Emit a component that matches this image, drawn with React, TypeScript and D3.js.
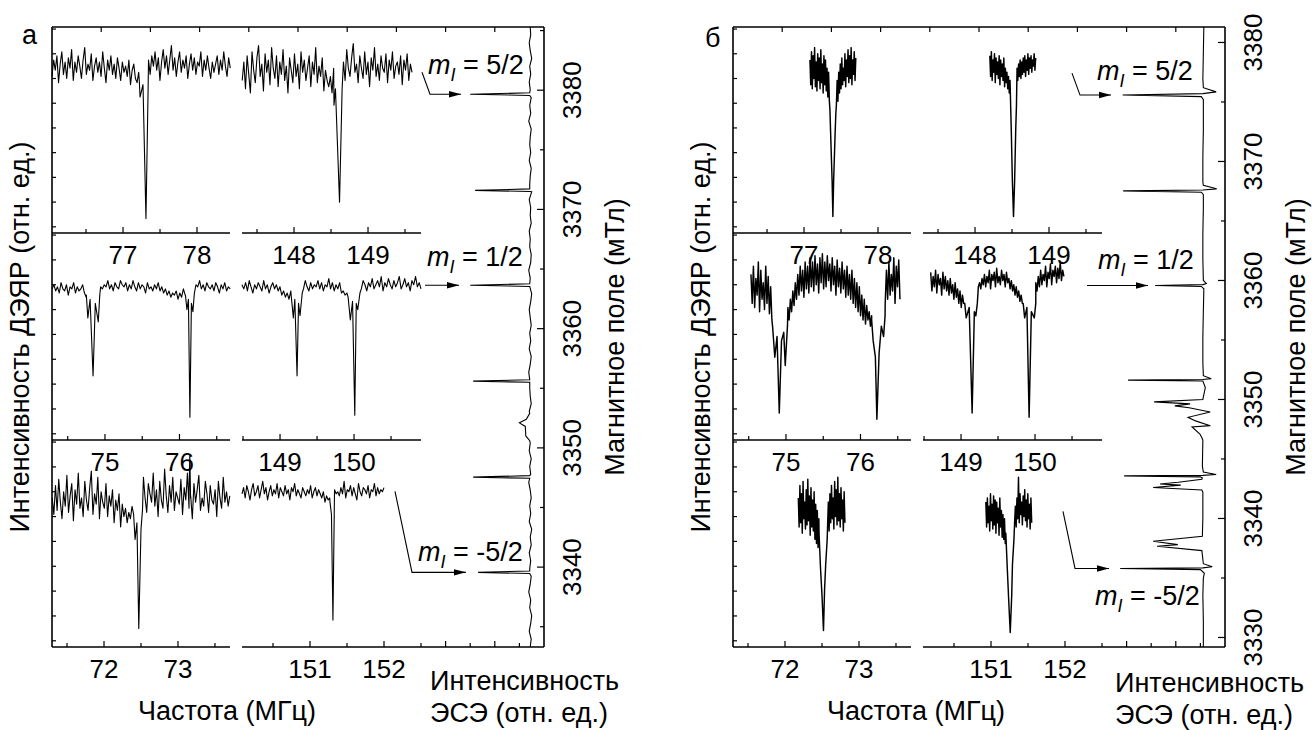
import React from 'react';
import * as d3 from 'd3';

type Pt = [number, number];

// ---------- ДЭЯР, панель а (частота МГц, интенсивность отн. ед.) ----------
const aTopLeftRange = [76.04, 78.45];
const aTopLeft = [
  76, 84, 79, 86, 73, 82, 88, 77, 83, 75, 85, 80, 89, 74, 83, 78, 86, 81, 75, 84,
  90, 77, 82, 79, 87, 74, 81, 85, 78, 83, 76, 88, 80, 73, 84, 79, 86, 77, 82, 75,
  85, 80, 74, 83, 78, 81, 76, 84, 72, 79, 82, 75, 73, 78, 71, 76, 80, 74, 79, 84,
  77, 86, 81, 88, 79, 85, 74, 83, 89, 80, 86, 77, 84, 91, 79, 85, 76, 83, 88, 78,
  84, 80, 86, 75, 82, 87, 79, 85, 77, 83, 81, 88, 76, 84, 79, 86, 80, 75, 83, 78,
  82, 86, 77, 84, 79, 88, 81, 76, 85, 80,
];
const aTopLeftDips: Pt[][] = [[[77.22, 74], [77.23, 66], [77.27, 72], [77.31, 7], [77.34, 72]]];

const aTopRightRange = [147.3, 149.595];
const aTopRight = [
  74, 83, 70, 86, 77, 68, 88, 79, 73, 85, 91, 76, 82, 69, 87, 78, 84, 72, 90, 80,
  75, 86, 71, 83, 77, 89, 74, 81, 68, 85, 79, 73, 87, 76, 82, 70, 88, 78, 84, 74,
  80, 86, 71, 83, 77, 90, 73, 81, 76, 85, 69, 79, 74, 71, 76, 68, 80, 73, 84, 77,
  87, 79, 83, 74, 89, 80, 76, 85, 92, 78, 82, 73, 86, 80, 75, 88, 77, 83, 71, 85,
  79, 90, 76, 82, 74, 86, 80, 78, 87, 73, 84, 79, 88, 75, 81, 83, 77, 86, 72, 84,
  79, 87, 74, 82, 78,
];
const aTopRightDips: Pt[][] = [[[148.54, 62], [148.56, 70], [148.615, 15], [148.65, 70]]];

const aMidLeftRange = [74.29, 76.68];
const aMidLeft = [
  73, 75, 72, 74, 71, 76, 73, 72, 75, 70, 74, 73, 76, 71, 74, 72, 73, 75, 71, 69,
  72, 68, 70, 67, 71, 69, 72, 74, 73, 75, 74, 77, 73, 75, 72, 76, 74, 73, 77, 75,
  74, 76, 72, 75, 73, 77, 74, 72, 76, 73, 75, 74, 71, 76, 73, 74, 72, 75, 73, 76,
  72, 74, 71, 73, 70, 72, 69, 71, 70, 72, 68, 71, 69, 73, 70, 72, 74, 73, 76, 72,
  75, 74, 77, 73, 75, 72, 76, 74, 73, 75, 72, 76, 74, 71, 75, 73, 76, 72, 74, 73,
];
const aMidLeftDips: Pt[][] = [
  [[74.75, 70], [74.77, 59], [74.8, 68], [74.84, 31], [74.87, 66], [74.91, 57], [74.93, 70]],
  [[76.08, 70], [76.1, 63], [76.12, 68], [76.14, 11], [76.16, 66], [76.18, 62], [76.2, 71]],
];

const aMidRightRange = [148.486, 150.905];
const aMidRight = [
  75, 73, 76, 72, 77, 74, 71, 75, 73, 76, 74, 72, 77, 73, 75, 71, 74, 76, 73, 75,
  72, 74, 70, 72, 69, 71, 68, 72, 70, 74, 73, 76, 72, 75, 73, 77, 74, 72, 76, 73,
  75, 74, 77, 73, 76, 72, 75, 74, 78, 73, 76, 72, 75, 73, 76, 71, 72, 70, 71, 69,
  72, 70, 73, 71, 74, 76, 73, 77, 75, 72, 76, 74, 78, 73, 75, 77, 74, 79, 72, 76,
  74, 78, 75, 73, 77, 74, 76, 79, 73, 75, 78, 74, 76, 72, 77, 75, 79, 74, 76, 73,
];
const aMidRightDips: Pt[][] = [
  [[149.15, 70], [149.18, 59], [149.2, 68], [149.23, 31], [149.25, 66], [149.27, 60], [149.3, 71]],
  [[149.92, 69], [149.95, 58], [149.98, 67], [150.01, 12], [150.03, 66], [150.05, 63], [150.08, 71]],
];

const aBotLeftRange = [71.3, 73.7];
const aBotLeft = [
  72, 64, 78, 66, 81, 70, 62, 75, 68, 83, 65, 73, 79, 61, 76, 69, 84, 67, 72, 63,
  80, 71, 66, 77, 85, 64, 74, 69, 82, 62, 75, 70, 67, 79, 63, 73, 68, 76, 60, 71,
  66, 74, 58, 69, 63, 67, 60, 65, 62, 68, 64, 66, 71, 67, 77, 69, 82, 72, 65, 79,
  74, 70, 84, 68, 76, 63, 80, 71, 67, 86, 73, 65, 78, 70, 82, 66, 75, 72, 69, 81,
  64, 77, 71, 84, 67, 73, 62, 79, 70, 76, 83, 66, 72, 68, 80, 74, 65, 78, 71, 69,
  76, 63, 80, 72, 67, 82, 70, 75, 68, 73,
];
const aBotLeftDips: Pt[][] = [
  [[72.4, 64], [72.42, 52], [72.445, 60], [72.47, 9], [72.5, 57], [72.52, 66]],
  [[73.15, 75], [73.16, 93], [73.17, 72]],
];

const aBotRightRange = [150.081, 152.0];
const aBotRight = [
  74, 77, 72, 78, 75, 71, 76, 79, 73, 75, 78, 72, 76, 80, 74, 77, 71, 75, 78, 73,
  76, 74, 79, 72, 77, 75, 73, 78, 74, 76, 71, 77, 75, 79, 73, 76, 74, 72, 77, 75,
  73, 76, 74, 78, 72, 75, 77, 73, 76, 74, 72, 75, 70, 73, 71, 72, 69, 73, 76, 74,
  75, 73, 77, 74, 80, 72, 76, 75, 78, 73, 77, 74, 71, 79, 75, 73, 77, 76, 74, 78,
  72, 76, 75, 79, 73, 77, 74, 76, 75, 77,
];
const aBotRightDips: Pt[][] = [[[151.27, 70], [151.29, 64], [151.31, 13], [151.33, 72]]];

// ---------- ДЭЯР, панель б ----------
const bTopLeftRange = [77.08, 77.7];
const bTopLeft = [
  84, 72, 88, 70, 86, 75, 90, 71, 83, 69, 87, 74, 85, 70, 89, 73, 82, 68, 86, 72,
  84, 69, 80, 66, 78, 64, 75, 62, 70, 60, 60, 66, 58, 70, 62, 74, 64, 78, 68, 82,
  70, 85, 72, 80, 74, 87, 71, 84, 76, 89, 73, 86, 75, 90, 72, 84, 77, 88, 74, 85,
];
const bTopLeftDips: Pt[][] = [[[77.35, 60], [77.36, 48], [77.38, 25], [77.39, 8], [77.4, 25], [77.42, 48], [77.43, 58]]];

const bTopRightRange = [148.2, 148.82];
const bTopRight = [
  86, 76, 88, 74, 84, 78, 87, 73, 85, 77, 83, 75, 86, 72, 84, 76, 82, 74, 85, 71,
  80, 73, 78, 70, 76, 68, 74, 66, 72, 64, 64, 70, 66, 74, 72, 80, 74, 82, 76, 84,
  75, 83, 77, 85, 78, 86, 76, 84, 79, 87, 77, 85, 80, 86, 78, 84, 81, 87, 79, 85,
];
const bTopRightDips: Pt[][] = [[[148.48, 64], [148.49, 50], [148.505, 25], [148.52, 8], [148.535, 25], [148.55, 50], [148.56, 62]]];

const bMidLeftRange = [74.53, 76.53];
const bMidLeft = [
  80, 66, 84, 64, 78, 70, 86, 62, 82, 68, 76, 63, 84, 66, 79, 61, 74, 58, 70, 56, 66, 52, 62, 55, 58, 50,
  56, 52, 60, 55, 64, 58, 68, 62, 72, 65, 76, 68, 80, 70, 84, 72, 82, 69, 86, 73, 84, 71, 88, 74, 86, 72,
  89, 75, 85, 71, 88, 76, 90, 73, 86, 74, 89, 77, 85, 72, 88, 75, 84, 70, 87, 74, 83, 71, 86, 73, 82, 69,
  84, 70, 80, 68, 82, 66, 78, 64, 76, 62, 74, 60, 70, 58, 68, 56, 65, 58, 62, 55,
  60, 54, 58, 56, 62, 58, 66, 60, 70, 64, 76, 66, 82, 68, 86, 70, 80, 72, 88, 66, 84, 74, 87, 68,
];
const bMidLeftDips: Pt[][] = [
  [[74.82, 55], [74.85, 40], [74.88, 50], [74.91, 13], [74.94, 48], [74.97, 52], [74.99, 36], [75.02, 55]],
  [[76.15, 58], [76.17, 48], [76.2, 40], [76.22, 10], [76.25, 42], [76.28, 55], [76.31, 50], [76.33, 60]],
];

const bMidRightRange = [148.59, 150.39];
const bMidRight = [
  81, 72, 79, 74, 82, 71, 80, 75, 78, 70, 81, 73, 79, 72, 77, 70, 78, 71, 75, 68,
  76, 69, 73, 66, 72, 64, 70, 66, 68, 63, 67, 64, 66, 63,
  64, 66, 68, 70, 72, 74, 76, 73, 78, 75, 80, 74, 79, 76, 82, 73, 80, 77, 81, 74,
  83, 76, 79, 75, 82, 77, 80, 74, 81, 76, 78, 73, 77, 72, 75, 70, 74, 69, 72, 67, 70, 66, 68, 65, 67, 64,
  65, 66, 70, 68, 73, 70, 76, 72, 79, 74, 82, 75, 80, 77, 84, 74, 81, 78, 85, 75,
  82, 79, 84, 76, 83, 78, 86, 77, 82, 79,
];
const bMidRightDips: Pt[][] = [
  [[149.05, 66], [149.07, 59], [149.11, 64], [149.15, 13], [149.18, 62], [149.2, 60], [149.22, 66]],
  [[149.84, 66], [149.86, 59], [149.89, 64], [149.92, 11], [149.95, 62], [149.99, 59], [150.01, 66]],
];

const bBotLeftRange = [72.18, 72.81];
const bBotLeft = [
  72, 58, 78, 60, 74, 55, 80, 62, 70, 57, 76, 59, 81, 61, 73, 54, 77, 58, 71, 56,
  75, 52, 69, 50, 66, 48, 62, 46, 58, 44, 52, 48, 55, 50, 60, 54, 64, 58, 70, 56,
  74, 60, 78, 62, 72, 57, 80, 63, 76, 59, 82, 61, 74, 58, 77, 62, 71, 56, 75, 60,
];
const bBotLeftDips: Pt[][] = [[[72.46, 55], [72.48, 38], [72.5, 25], [72.52, 8], [72.535, 28], [72.55, 40], [72.57, 52]]];

const bBotRightRange = [150.93, 151.55];
const bBotRight = [
  70, 58, 72, 60, 68, 56, 74, 61, 69, 57, 73, 59, 71, 55, 70, 60, 67, 54, 72, 58,
  66, 53, 64, 52, 62, 50, 58, 48, 55, 46, 50, 46, 52, 50, 58, 56, 62, 60, 68, 58,
  72, 62, 82, 60, 74, 64, 70, 59, 73, 63, 76, 61, 71, 58, 74, 62, 69, 57, 72, 60,
];
const bBotRightDips: Pt[][] = [[[151.2, 55], [151.22, 38], [151.24, 22], [151.26, 7], [151.28, 25], [151.29, 40], [151.31, 52]]];

// ---------- ЭСЭ (поле мТл, интенсивность) ----------
const aFieldDomain = [3333.3, 3385.3];
const aEseBase = [
  9.72, 9.74, 9.70, 9.73, 9.75, 9.71, 9.73, 9.69, 9.72, 9.74, 9.71, 9.73, 9.70, 9.74, 9.72, 9.75,
  9.70, 9.73, 9.71, 9.74, 9.72, 9.69, 9.73, 9.71, 9.74, 9.70, 9.72, 9.75, 9.71, 9.73, 9.70, 9.74,
  9.72, 9.71, 9.73, 9.69, 9.72, 9.74, 9.70, 9.73, 9.71, 9.74, 9.72, 9.70, 9.73, 9.75, 9.71, 9.72,
  9.69, 9.73, 9.74, 9.71, 9.72, 9.70, 9.74, 9.72, 9.73, 9.70, 9.75, 9.71, 9.72, 9.74, 9.70, 9.73,
  9.71, 9.72, 9.74, 9.69, 9.73, 9.71, 9.74, 9.72, 9.70, 9.73, 9.71, 9.75, 9.72, 9.70, 9.73, 9.72,
];
const aEsePeaks: Pt[][] = [
  [[3379.56, 9.71], [3379.66, 8.5], [3379.78, 9.71]],
  [[3371.5, 9.71], [3371.6, 8.6], [3371.72, 9.71]],
  [[3363.54, 9.71], [3363.64, 8.5], [3363.76, 9.71]],
  [[3355.5, 9.71], [3355.6, 8.56], [3355.72, 9.71]],
  [[3350.6, 9.71], [3351.0, 9.63], [3351.8, 9.62], [3352.1, 9.5], [3352.4, 9.64], [3352.9, 9.71]],
  [[3347.45, 9.71], [3347.55, 8.56], [3347.67, 9.71]],
  [[3339.46, 9.71], [3339.56, 8.66], [3339.68, 9.71]],
];
const aFieldTicks = [3340, 3350, 3360, 3370, 3380];
const aFieldMinor = [3335, 3345, 3355, 3365, 3375, 3385];

const bFieldDomain = [3329.2, 3381.3];
const bEseBase = [
  9.56, 9.56, 9.55, 9.55, 9.56, 9.55, 9.55, 9.54, 9.55, 9.55, 9.56, 9.55, 9.55,
  9.56, 9.55, 9.55, 9.55, 9.56, 9.55, 9.55, 9.56, 9.56, 9.55, 9.56, 9.57,
];
const bEsePeaks: Pt[][] = [
  [[3375.2, 9.56], [3375.45, 9.52], [3375.58, 7.92], [3375.7, 9.55], [3375.85, 9.82], [3376.2, 9.56]],
  [[3367.2, 9.56], [3367.42, 9.52], [3367.53, 7.93], [3367.6, 9.55], [3367.7, 9.83], [3368.0, 9.56]],
  [[3359.3, 9.57], [3359.5, 9.52], [3359.58, 8.58], [3359.65, 9.55], [3359.75, 9.62], [3360.0, 9.56]],
  [[3350.4, 9.57], [3351.0, 9.6], [3351.55, 9.55], [3351.63, 8.03], [3351.68, 9.55], [3351.75, 9.72], [3352.0, 9.56]],
  [[3346.7, 9.54], [3347.1, 9.49], [3347.7, 9.33], [3347.8, 9.7], [3348.2, 9.4], [3348.5, 9.25],
    [3348.95, 9.7], [3349.3, 9.27], [3349.46, 8.98], [3349.63, 9.29], [3349.8, 8.56], [3350.0, 9.55]],
  [[3342.4, 9.53], [3342.6, 8.54], [3342.8, 9.1], [3342.9, 8.68], [3343.05, 9.05], [3343.3, 9.53],
    [3343.4, 9.54], [3343.5, 9.5], [3343.58, 7.95], [3343.62, 9.55], [3343.7, 9.82], [3343.9, 9.56]],
  [[3337.3, 9.53], [3337.66, 8.62], [3337.8, 9.04], [3338.08, 8.54], [3338.5, 9.54]],
  [[3335.0, 9.56], [3335.4, 9.58], [3335.7, 9.5], [3335.8, 7.87], [3335.85, 9.55], [3335.95, 9.74], [3336.2, 9.56]],
];
const bFieldTicks = [3330, 3340, 3350, 3360, 3370, 3380];
const bFieldMinor = [3335, 3345, 3355, 3365, 3375];

// оси частоты: [строка][столбец]
const freqDomains = [
  [[76.04, 78.446], [147.297, 149.716]],
  [[74.289, 76.678], [148.486, 150.905]],
  [[71.297, 73.703], [150.081, 152.5]],
];
const mILabels = ['5/2', '1/2', '-5/2'];

// ---------- layout ----------
const FONT = '"Liberation Sans", Arial, Helvetica, sans-serif';
const L = 52, R = 544, T = 27, B = 647;
const COLS = [[52, 230], [242, 421]];
const ROWS = [[27, 233], [233, 440], [440, 647]];

function merge(range: number[], vals: number[], groups: Pt[][]): Pt[] {
  const step = (range[1] - range[0]) / (vals.length - 1);
  let pts: Pt[] = vals.map((v, i) => [range[0] + i * step, v]);
  groups.forEach(g => {
    const lo = d3.min(g, d => d[0])!, hi = d3.max(g, d => d[0])!;
    pts = pts.filter(p => p[0] < lo || p[0] > hi).concat(g);
  });
  return pts.sort((a, b) => a[0] - b[0]);
}

function MI({ x, y, label }: { x: number; y: number; label: string }) {
  return (
    <text x={x} y={y} fontSize={27}>
      <tspan fontStyle="italic">m</tspan>
      <tspan fontStyle="italic" fontSize={18} dy={7}>I</tspan>
      <tspan dy={-7}>{' = ' + label}</tspan>
    </text>
  );
}

function Panel({ ox, cfg }: { ox: number; cfg: any }) {
  const xE = d3.scaleLinear().domain([0, 10]).range([ox + L, ox + R]);
  const yE = d3.scaleLinear().domain(cfg.fieldDomain).range([B, T]);
  const sw = 1.6;
  const els: React.ReactNode[] = [];

  // рамка: верх, лево, право
  els.push(<line key="top" x1={ox + L} x2={ox + R} y1={T} y2={T} stroke="#000" strokeWidth={sw} />);
  els.push(<line key="left" x1={ox + L} x2={ox + L} y1={T} y2={B} stroke="#000" strokeWidth={sw} />);
  els.push(<line key="right" x1={ox + R} x2={ox + R} y1={T} y2={B} stroke="#000" strokeWidth={sw} />);
  d3.range(1, 10).forEach(v =>
    els.push(<line key={'tt' + v} x1={xE(v)} x2={xE(v)} y1={T} y2={T + 5} stroke="#000" strokeWidth={1.2} />));
  // нижняя ось ЭСЭ
  els.push(<line key="eb" x1={xE(7.5)} x2={ox + R} y1={B} y2={B} stroke="#000" strokeWidth={sw} />);
  [8, 8.5, 9, 9.5].forEach(v =>
    els.push(<line key={'eb' + v} x1={xE(v)} x2={xE(v)} y1={B} y2={B - (v % 1 ? 4 : 6)} stroke="#000" strokeWidth={1.2} />));
  // ось поля
  cfg.fieldTicks.forEach((f: number) => {
    els.push(<line key={'ft' + f} x1={ox + R} x2={ox + R - 7} y1={yE(f)} y2={yE(f)} stroke="#000" strokeWidth={1.2} />);
    els.push(
      <text key={'fl' + f} transform={`translate(${ox + R + 36.5},${yE(f)}) rotate(-90)`} textAnchor="middle" fontSize={26}>
        {f}
      </text>);
  });
  cfg.fieldMinor.forEach((f: number) =>
    els.push(<line key={'fm' + f} x1={ox + R} x2={ox + R - 4} y1={yE(f)} y2={yE(f)} stroke="#000" strokeWidth={1.2} />));

  // спектры ДЭЯР
  ROWS.forEach((row, r) => {
    const y = d3.scaleLinear().domain([0, 100]).range([row[1], row[0]]);
    d3.range(3, 100, 12).forEach(v =>
      els.push(<line key={`lt${r}-${v}`} x1={ox + L} x2={ox + L + 4} y1={y(v)} y2={y(v)} stroke="#000" strokeWidth={1.2} />));
    COLS.forEach((col, c) => {
      const dom = freqDomains[r][c];
      const x = d3.scaleLinear().domain(dom).range([ox + col[0], ox + col[1]]);
      els.push(<line key={`ax${r}${c}`} x1={ox + col[0]} x2={ox + col[1]} y1={row[1]} y2={row[1]} stroke="#000" strokeWidth={sw} />);
      for (let f = Math.ceil(dom[0] * 2) / 2; f <= dom[1] + 1e-6; f += 0.5) {
        const major = Math.abs(f - Math.round(f)) < 1e-6;
        els.push(<line key={`xt${r}${c}${f}`} x1={x(f)} x2={x(f)} y1={row[1]} y2={row[1] - (major ? 6 : 4)} stroke="#000" strokeWidth={1.2} />);
        if (major)
          els.push(<text key={`xl${r}${c}${f}`} x={x(f)} y={row[1] + 31} textAnchor="middle" fontSize={26}>{f}</text>);
      }
      const tr = cfg.traces[r][c];
      const pts = merge(tr.range, tr.vals, tr.dips);
      const line = d3.line<Pt>().x(d => x(d[0])).y(d => y(d[1]));
      els.push(<path key={`tr${r}${c}`} d={line(pts)!} fill="none" stroke="#000" strokeWidth={cfg.traceWidth} strokeLinejoin="round" />);
    });
  });

  // спектр ЭСЭ
  const ese = merge(cfg.fieldDomain, cfg.eseBase, cfg.esePeaks);
  const eLine = d3.line<Pt>().x(d => xE(d[1])).y(d => yE(d[0]));
  els.push(<path key="ese" d={eLine(ese)!} fill="none" stroke="#000" strokeWidth={1.1} />);

  // стрелки m_I
  cfg.ann.forEach((a: any, i: number) => {
    const py = yE(a.field);
    const pts = a.path.map((p: number[]) => `${ox + p[0]},${py + p[1]}`).join(' L');
    els.push(<path key={'ar' + i} d={'M' + pts} fill="none" stroke="#000" strokeWidth={1.1} markerEnd="url(#arrow)" />);
    els.push(<MI key={'mi' + i} x={ox + a.tx} y={py + a.ty} label={mILabels[i]} />);
  });

  // подписи
  els.push(<text key="pl" x={ox + cfg.letter[0]} y={cfg.letter[1]} fontSize={27}>{cfg.letterText}</text>);
  els.push(
    <text key="yt" transform={`translate(${ox + 29},337) rotate(-90)`} textAnchor="middle" fontSize={27}>
      Интенсивность ДЭЯР (отн. ед.)
    </text>);
  els.push(
    <text key="rt" transform={`translate(${ox + R + 80},337) rotate(-90)`} textAnchor="middle" fontSize={27}>
      Магнитное поле (мТл)
    </text>);
  els.push(<text key="xt" x={cfg.xTitle[0]} y={cfg.xTitle[1]} textAnchor="middle" fontSize={27}>Частота (МГц)</text>);
  els.push(<text key="e1" x={cfg.eTitle[0]} y={cfg.eTitle[1]} fontSize={27}>Интенсивность</text>);
  els.push(<text key="e2" x={cfg.eTitle[0]} y={cfg.eTitle[1] + 32} fontSize={27}>ЭСЭ (отн. ед.)</text>);

  return <g>{els}</g>;
}

const cfgA = {
  fieldDomain: aFieldDomain, eseBase: aEseBase, esePeaks: aEsePeaks,
  fieldTicks: aFieldTicks, fieldMinor: aFieldMinor, traceWidth: 1.1,
  traces: [
    [{ range: aTopLeftRange, vals: aTopLeft, dips: aTopLeftDips }, { range: aTopRightRange, vals: aTopRight, dips: aTopRightDips }],
    [{ range: aMidLeftRange, vals: aMidLeft, dips: aMidLeftDips }, { range: aMidRightRange, vals: aMidRight, dips: aMidRightDips }],
    [{ range: aBotLeftRange, vals: aBotLeft, dips: aBotLeftDips }, { range: aBotRightRange, vals: aBotRight, dips: aBotRightDips }],
  ],
  ann: [
    { field: aEsePeaks[0][1][0], path: [[422, -22], [430, 0], [461, 0]], tx: 428, ty: -20 },
    { field: aEsePeaks[2][1][0], path: [[425, 0], [459, 0]], tx: 427, ty: -19 },
    { field: aEsePeaks[6][1][0], path: [[395, -81], [412, 0], [466, 0]], tx: 418, ty: -11 },
  ],
  letter: [22, 44], letterText: 'а',
  xTitle: [227, 720], eTitle: [430, 690],
};

const cfgB = {
  fieldDomain: bFieldDomain, eseBase: bEseBase, esePeaks: bEsePeaks,
  fieldTicks: bFieldTicks, fieldMinor: bFieldMinor, traceWidth: 1.45,
  traces: [
    [{ range: bTopLeftRange, vals: bTopLeft, dips: bTopLeftDips }, { range: bTopRightRange, vals: bTopRight, dips: bTopRightDips }],
    [{ range: bMidLeftRange, vals: bMidLeft, dips: bMidLeftDips }, { range: bMidRightRange, vals: bMidRight, dips: bMidRightDips }],
    [{ range: bBotLeftRange, vals: bBotLeft, dips: bBotLeftDips }, { range: bBotRightRange, vals: bBotRight, dips: bBotRightDips }],
  ],
  ann: [
    { field: bEsePeaks[0][2][0], path: [[391, -22], [399, 0], [430, 0]], tx: 416, ty: -15 },
    { field: bEsePeaks[2][2][0], path: [[406, 0], [467, 0]], tx: 417, ty: -16 },
    { field: bEsePeaks[7][3][0], path: [[382, -57], [394, 0], [428, 0]], tx: 414, ty: 37 },
  ],
  letter: [24, 47], letterText: 'б',
  xTitle: [916, 720], eTitle: [1115, 692],
};

export default function App() {
  return (
    <svg width={1312} height={730} style={{ position: 'absolute', left: 0, top: 0 }} fontFamily={FONT}>
      <defs>
        <marker id="arrow" viewBox="0 0 12 8" refX="12" refY="4" markerWidth="12" markerHeight="8" markerUnits="userSpaceOnUse" orient="auto">
          <path d="M0,0.8 L12,4 L0,7.2 Z" fill="#000" />
        </marker>
      </defs>
      <rect width={1312} height={730} fill="#fff" />
      <Panel ox={0} cfg={cfgA} />
      <Panel ox={681} cfg={cfgB} />
    </svg>
  );
}
